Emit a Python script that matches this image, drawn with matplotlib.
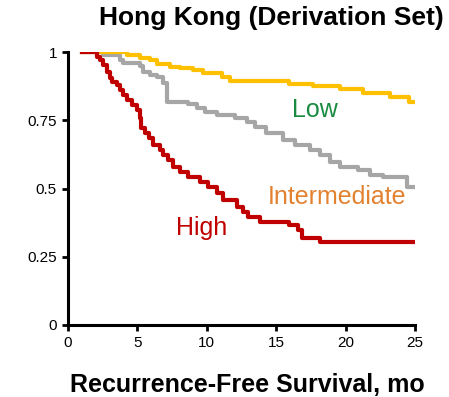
import matplotlib
matplotlib.use("Agg")
import matplotlib.pyplot as plt

plt.rcParams['font.family'] = ['Liberation Sans', 'DejaVu Sans']

# Kaplan-Meier step points (time in months, survival)
low_t = [1, 4.25, 5.2, 5.9, 6.4, 7.35, 8.1, 9.0, 9.7, 11.1, 11.7, 15.9, 17.65,
         19.6, 21.25, 23.2, 24.6, 25]
low_s = [1.0, 0.989, 0.978, 0.97, 0.956, 0.945, 0.941, 0.934, 0.923, 0.908,
         0.894, 0.883, 0.875, 0.864, 0.85, 0.835, 0.817, 0.817]

int_t = [1, 2.5, 3.75, 3.96, 5.2, 5.4, 5.9, 6.4, 6.85, 7.1, 8.65, 9.3, 9.9,
         10.7, 12.0, 12.9, 13.5, 14.3, 15.5, 16.35, 17.4, 18.15, 18.9, 19.6,
         20.9, 21.75, 22.7, 24.4, 25]
int_s = [1.0, 0.99, 0.97, 0.96, 0.95, 0.927, 0.916, 0.908, 0.886, 0.817, 0.81,
         0.795, 0.78, 0.77, 0.758, 0.744, 0.725, 0.703, 0.678, 0.66, 0.641,
         0.623, 0.597, 0.579, 0.568, 0.55, 0.542, 0.505, 0.505]

high_t = [1, 2.1, 2.3, 2.5, 2.8, 3.0, 3.2, 3.5, 3.75, 3.96, 4.25, 4.6, 4.97,
          5.2, 5.25, 5.55, 5.8, 6.15, 6.6, 6.85, 7.2, 7.6, 8.1, 8.65, 9.5,
          10.1, 10.7, 11.2, 12.2, 12.6, 12.95, 13.8, 15.9, 16.6, 16.85, 18.15, 25]
high_s = [1.0, 0.98, 0.97, 0.952, 0.927, 0.905, 0.89, 0.879, 0.86, 0.842,
          0.824, 0.806, 0.788, 0.758, 0.72, 0.703, 0.685, 0.66, 0.641, 0.623,
          0.604, 0.579, 0.56, 0.542, 0.524, 0.505, 0.483, 0.458, 0.432, 0.414,
          0.396, 0.377, 0.366, 0.348, 0.319, 0.304, 0.304]

xticks = [0, 5, 10, 15, 20, 25]
yticks = [0, 0.25, 0.5, 0.75, 1]
ylabels = ['0', '0.25', '0.5', '0.75', '1']

fig = plt.figure(figsize=(4.49, 3.97), dpi=100)
ax = fig.add_axes([68 / 449, 72 / 397, 347 / 449, 273 / 397])

ax.step(int_t, int_s, where='post', color='#a6a6a6', lw=3)
ax.step(low_t, low_s, where='post', color='#ffc000', lw=3)
ax.step(high_t, high_s, where='post', color='#c00000', lw=3)

ax.text(17.8, 0.787, 'Low', color='#1a8a40', fontsize=18, ha='center', va='center')
ax.text(19.4, 0.469, 'Intermediate', color='#e2812f', fontsize=18, ha='center', va='center')
ax.text(9.65, 0.355, 'High', color='#c00000', fontsize=18, ha='center', va='center')

ax.set_xlim(0, 25)
ax.set_ylim(0, 1)
ax.set_xticks(xticks)
ax.set_yticks(yticks)
ax.set_yticklabels(ylabels)
ax.tick_params(labelsize=11, width=2, length=4, pad=4)
for side in ['top', 'right']:
    ax.spines[side].set_visible(False)
for side in ['left', 'bottom']:
    ax.spines[side].set_linewidth(2.2)

fig.text(444 / 449, 0.955, 'Hong Kong (Derivation Set)', fontsize=19, fontweight='bold',
         ha='right', va='center')
fig.text(0.55, 0.03, 'Recurrence-Free Survival, mo', fontsize=18, fontweight='bold',
         ha='center', va='center')

fig.savefig('out.png', dpi=100)
